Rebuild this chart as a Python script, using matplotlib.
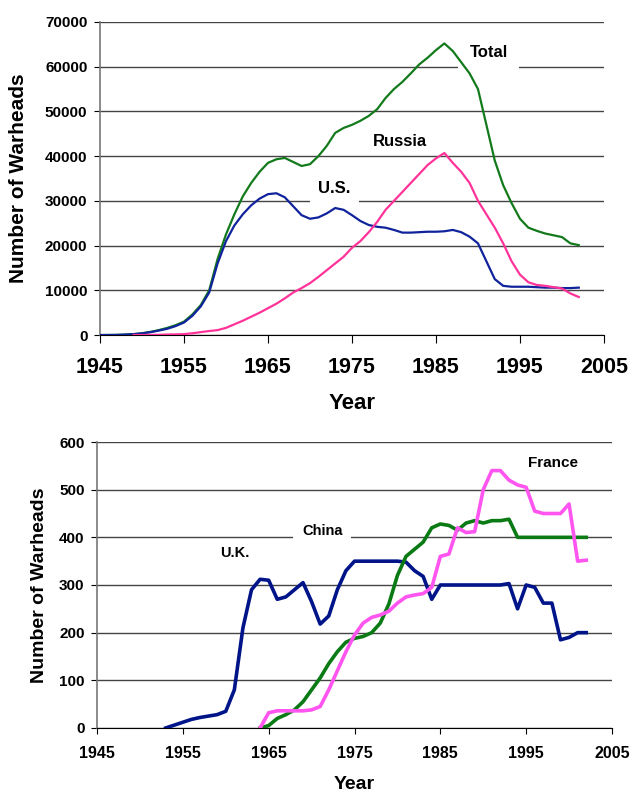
import matplotlib
matplotlib.use("Agg")
import matplotlib.pyplot as plt

plt.rcParams['font.family'] = ['Liberation Sans', 'DejaVu Sans']
plt.rcParams['font.weight'] = 'bold'

# ---- top panel: US, Russia and total stockpiles ----
years_total = list(range(1945, 2003))
total = [0, 10, 30, 100, 200, 400, 700, 1100, 1600, 2200,
         3000, 4600, 6700, 10000, 17000, 22500, 27000, 31000, 34000, 36500,
         38500, 39300, 39600, 38700, 37800, 38200, 40000, 42300, 45200, 46300,
         47000, 47900, 49000, 50500, 53000, 55000, 56600, 58500, 60500, 62000,
         63700, 65200, 63500, 61000, 58500, 55000, 47000, 39000, 33500, 29500,
         26000, 24000, 23300, 22700, 22300, 21900, 20500, 20100]
us = [0, 10, 30, 100, 200, 370, 640, 1000, 1400, 2000,
      2800, 4300, 6400, 9500, 16000, 21000, 24500, 27000, 29000, 30500,
      31500, 31700, 30800, 28800, 26800, 26000, 26300, 27200, 28400, 28000,
      26800, 25500, 24600, 24200, 24000, 23500, 22900, 22900, 23000, 23100,
      23100, 23200, 23500, 23000, 22000, 20500, 16500, 12500, 11000, 10800,
      10800, 10800, 10700, 10600, 10600, 10500, 10500, 10600]
years_ru = list(range(1949, 2003))
russia = [0, 5, 25, 50, 120, 150,
          200, 400, 650, 900, 1100, 1600, 2400, 3200, 4100, 5000,
          6000, 7000, 8200, 9500, 10500, 11600, 13000, 14500, 16000, 17500,
          19500, 21000, 23000, 25300, 28000, 30000, 32000, 34000, 36000, 38000,
          39500, 40700, 38500, 36500, 34000, 30000, 27000, 24000, 20500, 16500,
          13500, 11800, 11200, 11000, 10700, 10400, 9300, 8500]

# ---- bottom panel: UK, China, France ----
years_uk = list(range(1953, 2003))
uk = [0, 6, 12, 18, 22, 25, 28, 35, 80, 210,
      290, 312, 310, 270, 275, 290, 305, 265, 218, 235,
      290, 330, 350, 350, 350, 350, 350, 350, 348, 330,
      318, 270, 300, 300, 300, 300, 300, 300, 300, 300,
      303, 250, 300, 295, 262, 262, 185, 190, 200, 200]
years_cf = list(range(1964, 2003))
china = [0, 5, 20, 28, 38, 55, 80, 105, 135, 160,
         180, 188, 192, 200, 220, 260, 320, 360, 375, 390,
         420, 428, 425, 415, 430, 435, 430, 435, 435, 438,
         400, 400, 400, 400, 400, 400, 400, 400, 400]
france = [0, 32, 36, 36, 36, 36, 38, 45, 80, 120,
          160, 195, 220, 232, 237, 245, 262, 275, 279, 282,
          295, 360, 365, 420, 410, 412, 500, 540, 540, 520,
          510, 505, 455, 450, 450, 450, 470, 350, 352]

xticks = [1945, 1955, 1965, 1975, 1985, 1995, 2005]
grid_col = '#444444'

fig = plt.figure(figsize=(6.3, 7.93), dpi=100)
ax1 = fig.add_axes([0.1587, 0.5775, 0.80, 0.3948])
ax2 = fig.add_axes([0.154, 0.082, 0.8174, 0.3606])

for ax in (ax1, ax2):
    ax.set_xlim(1945, 2005)
    ax.set_xticks(xticks)
    ax.spines['top'].set_visible(False)
    ax.spines['right'].set_visible(False)
    ax.spines['left'].set_color('#777777')
    ax.spines['left'].set_linewidth(1.2)
    ax.spines['bottom'].set_color('black')
    ax.yaxis.grid(True, color=grid_col, lw=1)
    ax.set_axisbelow(True)

# top
ax1.plot(years_total, total, color='#137a1c', lw=1.6, zorder=3)
ax1.plot(years_total, us, color='#10239c', lw=1.6, zorder=3)
ax1.plot(years_ru, russia, color='#ff3399', lw=1.6, zorder=3)
ax1.set_ylim(0, 70000)
ax1.set_yticks(range(0, 70001, 10000))
ax1.tick_params(axis='x', length=6, pad=10, labelsize=15.5, direction='out')
ax1.tick_params(axis='y', length=4, pad=5, labelsize=11, direction='out')
ax1.set_xlabel('Year', fontsize=16, fontweight='bold')
ax1.set_ylabel('Number of Warheads', fontsize=15, fontweight='bold')
ax1.xaxis.set_label_coords(0.5, -0.185)
ax1.yaxis.set_label_coords(-0.143, 0.5)

ax1.text(1989.0, 63100, 'Total', fontsize=12, fontweight='bold',
         ha='left', va='center', zorder=2,
         bbox=dict(facecolor='white', edgecolor='none', boxstyle='square,pad=0.7'))
ax1.text(1980.7, 43200, 'Russia', fontsize=12, fontweight='bold',
         ha='center', va='center', zorder=2)
ax1.text(1971.0, 32700, 'U.S.', fontsize=12, fontweight='bold',
         ha='left', va='center', zorder=2,
         bbox=dict(facecolor='white', edgecolor='none', boxstyle='square,pad=0.5'))

# bottom
ax2.plot(years_uk, uk, color='#001489', lw=2.6, zorder=3)
ax2.plot(years_cf, china, color='#0a7a14', lw=2.6, zorder=3)
ax2.plot(years_cf, france, color='#ff55f0', lw=2.6, zorder=3)
ax2.set_ylim(0, 600)
ax2.set_yticks(range(0, 601, 100))
ax2.tick_params(axis='x', length=4, pad=9, labelsize=11.5, direction='out')
ax2.tick_params(axis='y', length=4, pad=5, labelsize=11, direction='out')
ax2.set_xlabel('Year', fontsize=14, fontweight='bold')
ax2.set_ylabel('Number of Warheads', fontsize=14, fontweight='bold')
ax2.xaxis.set_label_coords(0.5, -0.168)
ax2.yaxis.set_label_coords(-0.095, 0.5)

ax2.text(1961.1, 367, 'U.K.', fontsize=10.5, fontweight='bold',
         ha='center', va='center', zorder=2)
ax2.text(1968.9, 413, 'China', fontsize=10.5, fontweight='bold',
         ha='left', va='center', zorder=2,
         bbox=dict(facecolor='white', edgecolor='none', boxstyle='square,pad=0.6'))
ax2.text(1998.1, 556, 'France', fontsize=11, fontweight='bold',
         ha='center', va='center', zorder=2)

fig.savefig('out.png', dpi=100)
